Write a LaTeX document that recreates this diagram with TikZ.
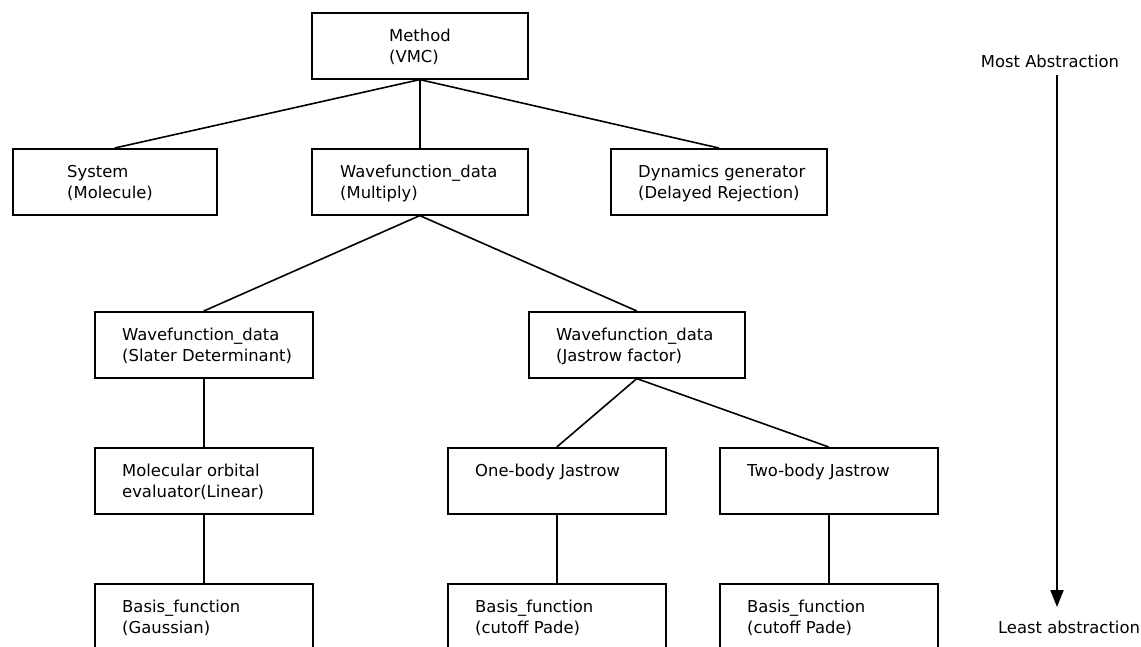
\documentclass[tikz,border=0pt]{standalone}
\usepackage{fontspec}
\setmainfont{DejaVu Sans}
\usetikzlibrary{arrows.meta, positioning}
\tikzset{
	box/.style={
		rectangle,
		draw=black,
		line width=1.6pt,
		anchor=north west,
		minimum width=216pt,
		minimum height=66pt,
		inner sep=0pt
	},
	txt/.style={
		anchor=base west,
		align=left,
		inner sep=0pt,
		font=\fontsize{16.4}{21}\selectfont
	},
	link/.style={
		line width=1.6pt
	},
	arrow/.style={
		-{Triangle[length=17pt,width=13pt]},
		line width=2pt
	}
}

\begin{document}
\begin{tikzpicture}[x=1pt,y=-1pt]
		\useasboundingbox (0,0) rectangle (1141,646);
		\clip (0,0) rectangle (1141,646);
		
		% boxes
		\node (method)   [box] at (311,12)  {};
		\node (system)   [box, minimum width=204pt] at (12,148) {};
		\node (multiply) [box] at (311,148) {};
		\node (dynamics) [box] at (610,148) {};
		\node (slater)   [box, minimum width=218pt] at (94,311)  {};
		\node (jastrow)  [box] at (528,311) {};
		\node (orbital)  [box, minimum width=218pt] at (94,447)  {};
		\node (onebody)  [box, minimum width=218pt] at (447,447) {};
		\node (twobody)  [box, minimum width=218pt] at (719,447) {};
		\node (gauss)    [box, minimum width=218pt] at (94,583)  {};
		\node (padeone)  [box, minimum width=218pt] at (447,583) {};
		\node (padetwo)  [box, minimum width=218pt] at (719,583) {};
		
		% texts (base = last line)
		\node (method-t)   [txt] at ([xshift=78pt,yshift=-50pt]method.north west)   {Method\\(VMC)};
		\node (system-t)   [txt] at ([xshift=55pt,yshift=-50pt]system.north west)   {System\\(Molecule)};
		\node (multiply-t) [txt] at ([xshift=29pt,yshift=-50pt]multiply.north west) {Wavefunction\_data\\(Multiply)};
		\node (dynamics-t) [txt] at ([xshift=28pt,yshift=-50pt]dynamics.north west) {Dynamics generator\\(Delayed Rejection)};
		\node (slater-t)   [txt] at ([xshift=28pt,yshift=-50pt]slater.north west)   {Wavefunction\_data\\(Slater Determinant)};
		\node (jastrow-t)  [txt] at ([xshift=28pt,yshift=-50pt]jastrow.north west)  {Wavefunction\_data\\(Jastrow factor)};
		\node (orbital-t)  [txt] at ([xshift=28pt,yshift=-50pt]orbital.north west)  {Molecular orbital\\evaluator(Linear)};
		\node (onebody-t)  [txt] at ([xshift=28pt,yshift=-29pt]onebody.north west)  {One-body Jastrow};
		\node (twobody-t)  [txt] at ([xshift=28pt,yshift=-29pt]twobody.north west)  {Two-body Jastrow};
		\node (gauss-t)    [txt] at ([xshift=28pt,yshift=-50pt]gauss.north west)    {Basis\_function\\(Gaussian)};
		\node (padeone-t)  [txt] at ([xshift=28pt,yshift=-50pt]padeone.north west)  {Basis\_function\\(cutoff Pade)};
		\node (padetwo-t)  [txt] at ([xshift=28pt,yshift=-50pt]padetwo.north west)  {Basis\_function\\(cutoff Pade)};
		
		% tree links
		\draw [link] (method.south) -- (system.north);
		\draw [link] (method.south) -- (multiply.north);
		\draw [link] (method.south) -- (dynamics.north);
		\draw [link] (multiply.south) -- (slater.north);
		\draw [link] (multiply.south) -- (jastrow.north);
		\draw [link] (slater.south) -- (orbital.north);
		\draw [link] (jastrow.south) -- (onebody.north);
		\draw [link] (jastrow.south) -- (twobody.north);
		\draw [link] (orbital.south) -- (gauss.north);
		\draw [link] (onebody.south) -- (padeone.north);
		\draw [link] (twobody.south) -- (padetwo.north);
		
		% abstraction scale
		\node (most)  [txt, anchor=base] at (1050,67)  {Most Abstraction};
		\node (least) [txt, anchor=base] at (1069,633) {Least abstraction};
		\coordinate (scale-top) at (1057,75);
		\coordinate (scale-bot) at (1057,607);
		\draw [arrow] (scale-top) -- (scale-bot);
		
	\end{tikzpicture}
\end{document}
